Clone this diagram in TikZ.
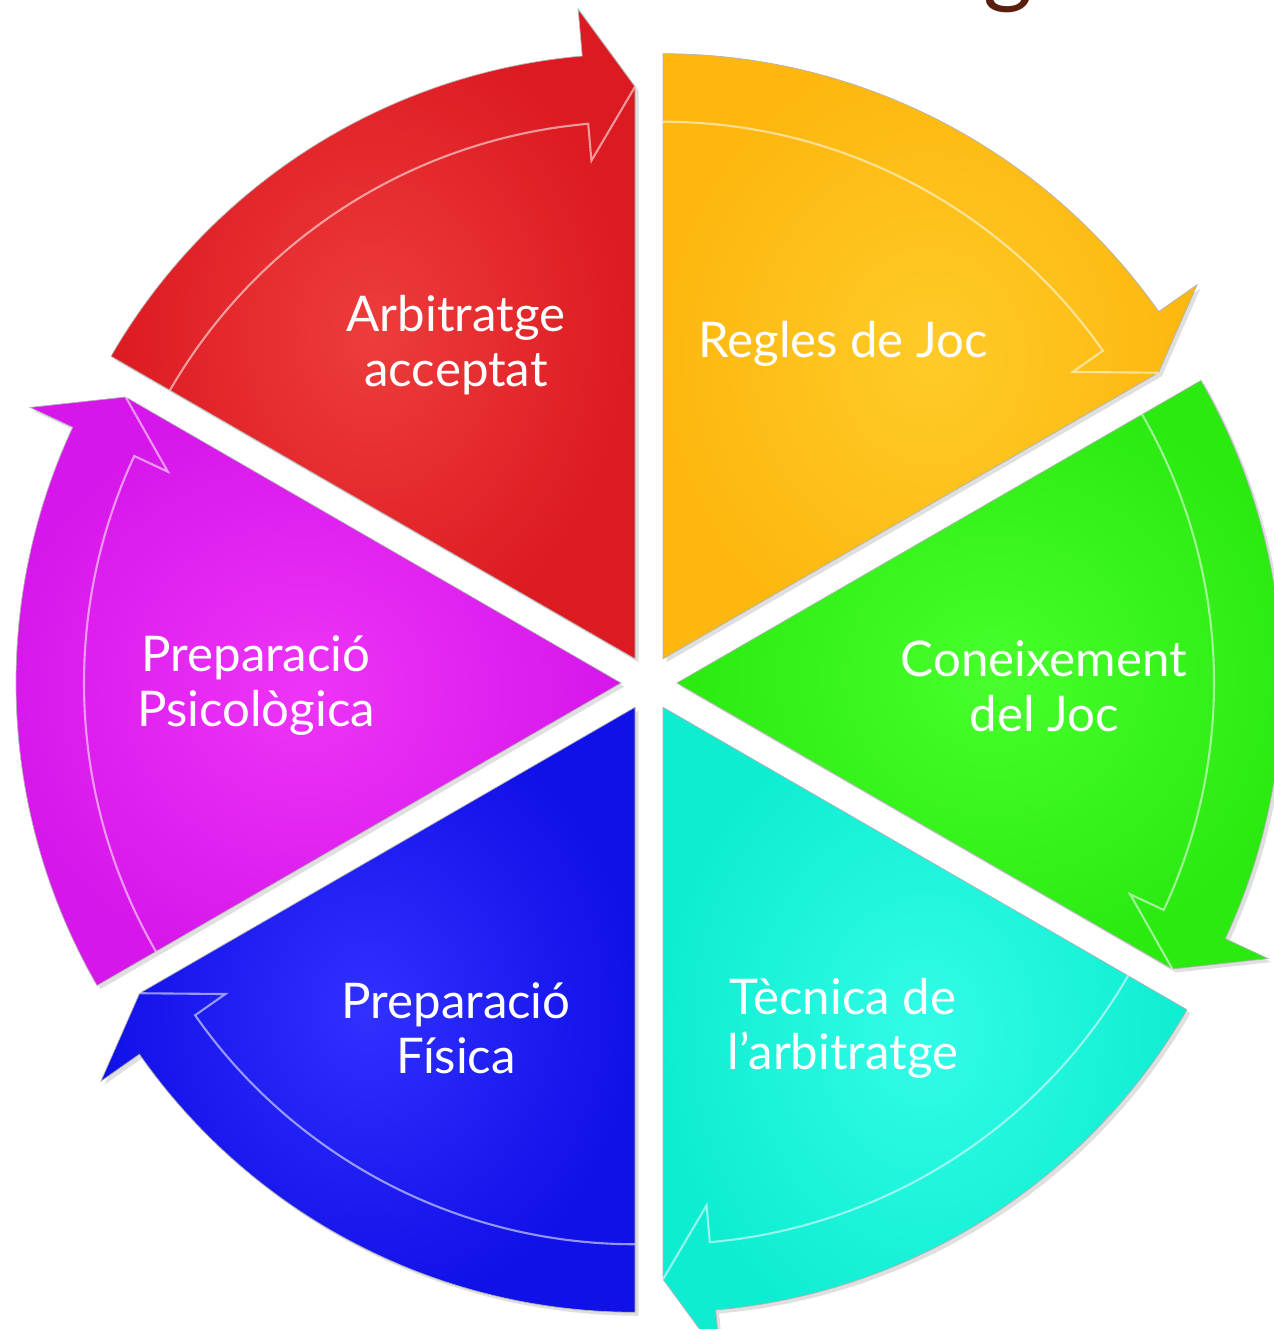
\documentclass[tikz,border=0pt]{standalone}
\usepackage{fontspec}
\setmainfont{Lato}
\usetikzlibrary{shadows}

\definecolor{vermell}{HTML}{DC1A21}
\definecolor{vermellclar}{HTML}{EE3C3C}
\definecolor{groc}{HTML}{FDB70E}
\definecolor{grocclar}{HTML}{FFCB28}
\definecolor{verd}{HTML}{2AEA10}
\definecolor{verdclar}{HTML}{48FF2C}
\definecolor{turquesa}{HTML}{0EEDD2}
\definecolor{turquesaclar}{HTML}{32FCE8}
\definecolor{blau}{HTML}{1010E8}
\definecolor{blauclar}{HTML}{3030FF}
\definecolor{lila}{HTML}{D616EA}
\definecolor{lilaclar}{HTML}{EE34F8}
\definecolor{marro}{HTML}{5A1E0E}

\tikzset{
  sector/.style={draw=black!30, line width=0.4pt,
    drop shadow={opacity=0.25, shadow xshift=2pt, shadow yshift=-2pt}},
  bisell/.style={draw=white, opacity=0.55, line width=1.2pt},
  etiqueta/.style={text=white, align=center, font=\fontsize{28}{31.3}\selectfont},
}

\begin{document}
\begin{tikzpicture}[x=0.02cm, y=0.02cm]
    \useasboundingbox (0,0) rectangle (1274,1329);

    % Titol (tallat)
    \node[text=marro, font=\fontsize{54}{60}\selectfont, anchor=base] (titol) at (1008,1333) {g};

    % Sector vermell
    \begin{scope}[shift={(649,646)}, shift={(120:28)}]
        \shade[sector, inner color=vermellclar, outer color=vermell] (0,0) -- (90:572) -- (95:652) -- (95:605) arc[start angle=95, end angle=150, radius=605] -- cycle;
        \draw[bisell] (150:537) arc[start angle=150, end angle=95, radius=537] -- (95:500) -- (90:572);
    \end{scope}

    % Sector groc
    \begin{scope}[shift={(649,646)}, shift={(60:28)}]
        \shade[sector, inner color=grocclar, outer color=groc] (0,0) -- (30:572) -- (35:652) -- (35:605) arc[start angle=35, end angle=90, radius=605] -- cycle;
        \draw[bisell] (90:537) arc[start angle=90, end angle=35, radius=537] -- (35:500) -- (30:572);
    \end{scope}

    % Sector verd
    \begin{scope}[shift={(649,646)}, shift={(0:28)}]
        \shade[sector, inner color=verdclar, outer color=verd] (0,0) -- (-30:572) -- (-25:652) -- (-25:605) arc[start angle=-25, end angle=30, radius=605] -- cycle;
        \draw[bisell] (30:537) arc[start angle=30, end angle=-25, radius=537] -- (-25:500) -- (-30:572);
    \end{scope}

    % Sector turquesa
    \begin{scope}[shift={(649,646)}, shift={(-60:28)}]
        \shade[sector, inner color=turquesaclar, outer color=turquesa] (0,0) -- (-90:572) -- (-85:652) -- (-85:605) arc[start angle=-85, end angle=-30, radius=605] -- cycle;
        \draw[bisell] (-30:537) arc[start angle=-30, end angle=-85, radius=537] -- (-85:500) -- (-90:572);
    \end{scope}

    % Sector blau
    \begin{scope}[shift={(649,646)}, shift={(240:28)}]
        \shade[sector, inner color=blauclar, outer color=blau] (0,0) -- (210:572) -- (215:652) -- (215:605) arc[start angle=215, end angle=270, radius=605] -- cycle;
        \draw[bisell] (270:537) arc[start angle=270, end angle=215, radius=537] -- (215:500) -- (210:572);
    \end{scope}

    % Sector lila
    \begin{scope}[shift={(649,646)}, shift={(180:28)}]
        \shade[sector, inner color=lilaclar, outer color=lila] (0,0) -- (150:572) -- (155:652) -- (155:605) arc[start angle=155, end angle=210, radius=605] -- cycle;
        \draw[bisell] (210:537) arc[start angle=210, end angle=155, radius=537] -- (155:500) -- (150:572);
    \end{scope}

    % Etiquetes
    \node[etiqueta] (arbitratge) at (456,984) {Arbitratge\\acceptat};
    \node[etiqueta] (regles) at (843,985) {Regles de Joc};
    \node[etiqueta] (coneixement) at (1044,643) {Coneixement\\del Joc};
    \node[etiqueta] (tecnica) at (843,301) {Tècnica de\\l’arbitratge};
    \node[etiqueta] (fisica) at (456,301) {Preparació\\Física};
    \node[etiqueta] (psicologica) at (256,643) {Preparació\\Psicològica};

\end{tikzpicture}
\end{document}
